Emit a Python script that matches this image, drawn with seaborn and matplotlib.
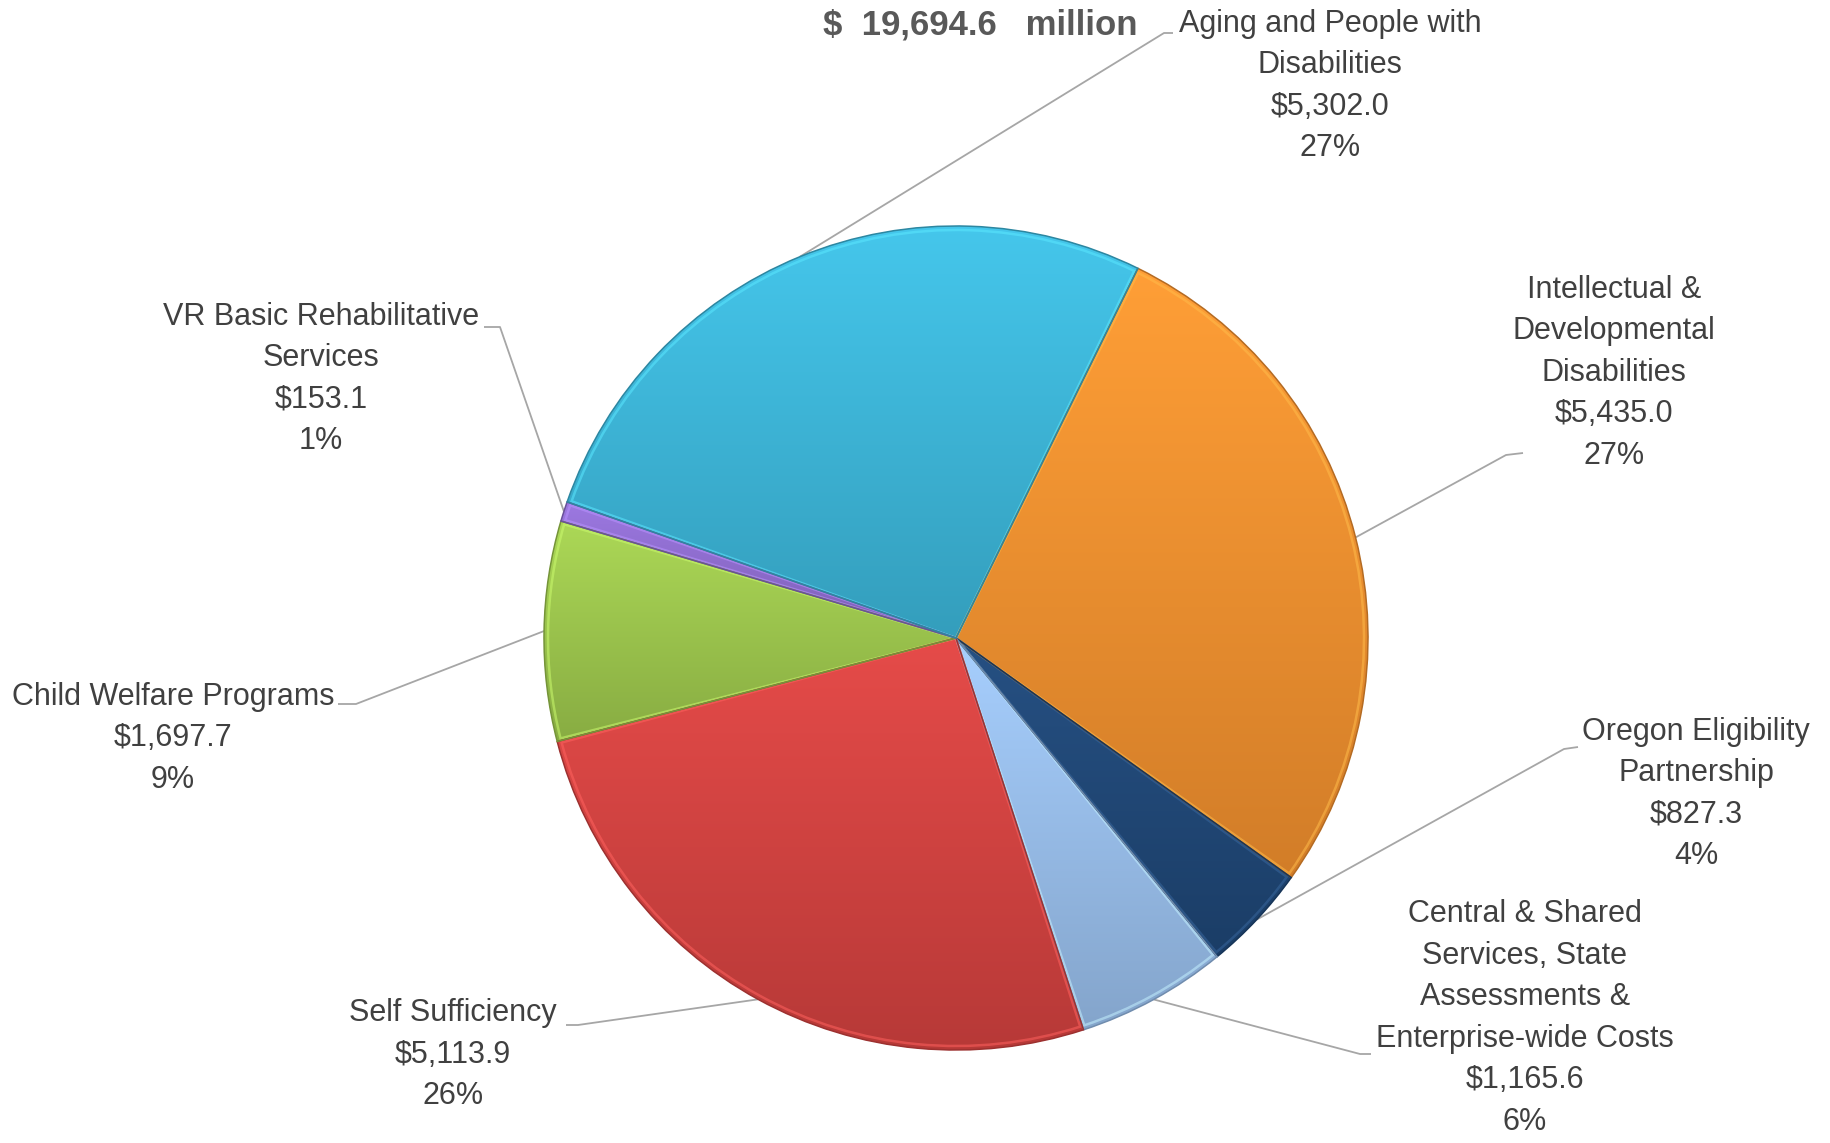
import numpy as np
import matplotlib
matplotlib.use("Agg")
import matplotlib.pyplot as plt
import matplotlib.colors as mcolors
from matplotlib.patches import Wedge
import seaborn as sns

# Budget by program area, in millions of dollars (clockwise from the top-right)
programs = [
    "Intellectual &\nDevelopmental\nDisabilities",
    "Oregon Eligibility\nPartnership",
    "Central & Shared\nServices, State\nAssessments &\nEnterprise-wide Costs",
    "Self Sufficiency",
    "Child Welfare Programs",
    "VR Basic Rehabilitative\nServices",
    "Aging and People with\nDisabilities",
]
amounts = [5435.0, 827.3, 1165.6, 5113.9, 1697.7, 153.1, 5302.0]
value_text = ["$5,435.0", "$827.3", "$1,165.6", "$5,113.9", "$1,697.7", "$153.1", "$5,302.0"]
pct_text = ["27%", "4%", "6%", "26%", "9%", "1%", "27%"]
total_text = "$  19,694.6   million"

slice_colors = ["#FA9530", "#20497A", "#9DC4F2", "#DA4442", "#A2CD4F", "#9370D6", "#3EBCE0"]

sns.set_style("white")
plt.rcParams["font.family"] = ["Liberation Sans", "DejaVu Sans"]

W, H = 1830, 1143
fig = plt.figure(figsize=(W / 100, H / 100), dpi=100)
ax = fig.add_axes([0, 0, 1, 1])

cx, cy, r = 956, H - 638, 412
palette = sns.color_palette(slice_colors)
wedges, _ = ax.pie(amounts, colors=palette, startangle=63.8, counterclock=False,
                   center=(cx, cy), radius=r,
                   wedgeprops=dict(edgecolor="none", linewidth=0))

# soft top-to-bottom shading inside each slice, spanning that slice's own height
for w, col in zip(wedges, palette):
    th = np.deg2rad(np.linspace(w.theta1, w.theta2, 200))
    ys = np.concatenate([[cy], cy + r * np.sin(th)])
    xs = np.concatenate([[cx], cx + r * np.cos(th)])
    base = np.array(mcolors.to_rgb(col))
    t = np.linspace(0, 1, 256)[:, None]
    light = np.clip(base * 1.03 + 0.02, 0, 1)
    dark = base * 0.84
    grad = light[None, :] * (1 - t) + dark[None, :] * t
    im = ax.imshow(grad[:, None, :], extent=(xs.min(), xs.max(), ys.min(), ys.max()),
                   origin="upper", aspect="auto", zorder=2, interpolation="bilinear")
    im.set_clip_path(w)
    w.set_zorder(1)

# bevel-like outlines: a light inner rim and a darker outer edge
for w, col in zip(wedges, palette):
    base = np.array(mcolors.to_rgb(col))
    ax.add_patch(Wedge((cx, cy), r - 4, w.theta1 + 0.3, w.theta2 - 0.3,
                       facecolor="none", edgecolor=tuple(np.clip(base * 1.12 + 0.08, 0, 1)),
                       linewidth=1.8, alpha=0.55, zorder=3))
    ax.add_patch(Wedge((cx, cy), r, w.theta1, w.theta2,
                       facecolor="none", edgecolor=tuple(base * 0.72),
                       linewidth=1.1, zorder=4))

# label positions (text centre) and leader elbow points
label_xy = [(1614, 373), (1696, 794), (1525, 1018), (453, 1055), (173, 738), (321, 379), (1330, 86)]
elbows = [((1506, 455), (1523, 453)), ((1564, 749), (1578, 747)),
          ((1360, 1054), (1371, 1054)), ((578, 1025), (566, 1025)),
          ((356, 704), (338, 704)), ((500, 327), (484, 327)),
          ((1164, 33), (1173, 33))]

for w, name, val, pct, (lx, ly), (e1, e2) in zip(wedges, programs, value_text, pct_text, label_xy, elbows):
    mid = np.deg2rad((w.theta1 + w.theta2) / 2)
    px, py = cx + r * np.cos(mid), cy + r * np.sin(mid)
    ax.plot([px, e1[0], e2[0]], [py, H - e1[1], H - e2[1]], color="#A6A6A6", lw=1.3,
            zorder=0, solid_capstyle="butt")
    ax.text(lx, H - ly, f"{name}\n{val}\n{pct}", ha="center", va="center",
            fontsize=22, color="#404040", linespacing=1.5, zorder=5)

ax.text(980, H - 25, total_text, ha="center", va="center", fontsize=25,
        fontweight="bold", color="#595959", zorder=5)

ax.set_xlim(0, W)
ax.set_ylim(0, H)
ax.axis("off")
fig.savefig("out.png", dpi=100, facecolor="white")
